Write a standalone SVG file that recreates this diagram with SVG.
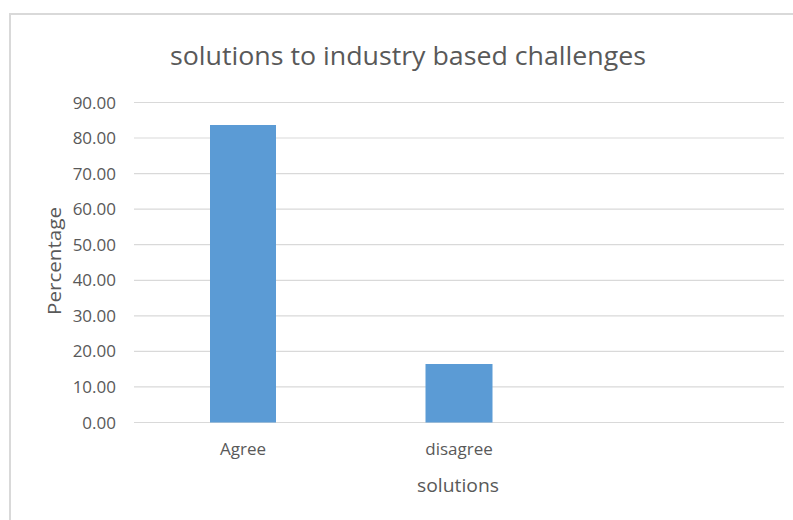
<svg xmlns="http://www.w3.org/2000/svg" width="793" height="520" viewBox="0 0 793 520">
<style>
.t{font-family:"Open Sans","Liberation Sans",sans-serif;fill:#595959}
.grid{stroke:#d9d9d9;stroke-width:1.2}
.bar{fill:#5b9bd5}
</style>
<rect width="793" height="520" fill="#ffffff"/>
<path d="M10,520 V14 H793" fill="none" stroke="#d9d9d9" stroke-width="2"/>
<text class="t" x="408" y="65" font-size="25" text-anchor="middle" textLength="476" lengthAdjust="spacingAndGlyphs">solutions to industry based challenges</text>
<g id="grid">
<line class="grid" x1="134" y1="102.5" x2="784" y2="102.5"/>
<line class="grid" x1="134" y1="138" x2="784" y2="138"/>
<line class="grid" x1="134" y1="173.6" x2="784" y2="173.6"/>
<line class="grid" x1="134" y1="209.2" x2="784" y2="209.2"/>
<line class="grid" x1="134" y1="244.7" x2="784" y2="244.7"/>
<line class="grid" x1="134" y1="280.3" x2="784" y2="280.3"/>
<line class="grid" x1="134" y1="315.8" x2="784" y2="315.8"/>
<line class="grid" x1="134" y1="351.4" x2="784" y2="351.4"/>
<line class="grid" x1="134" y1="386.9" x2="784" y2="386.9"/>
<line class="grid" x1="134" y1="422.5" x2="784" y2="422.5"/>
</g>
<g id="yticks" class="t" font-size="17" text-anchor="end">
<text x="116" y="108.5">90.00</text>
<text x="116" y="144">80.00</text>
<text x="116" y="179.6">70.00</text>
<text x="116" y="215.2">60.00</text>
<text x="116" y="250.7">50.00</text>
<text x="116" y="286.3">40.00</text>
<text x="116" y="321.8">30.00</text>
<text x="116" y="357.4">20.00</text>
<text x="116" y="392.9">10.00</text>
<text x="116" y="428.5">0.00</text>
</g>
<g id="bar-agree"><rect class="bar" x="210" y="125" width="66" height="297.5"/></g>
<g id="bar-disagree"><rect class="bar" x="425.5" y="364" width="67" height="58.5"/></g>
<g id="xlabels" class="t" font-size="17" text-anchor="middle">
<text x="243" y="455">Agree</text>
<text x="459" y="455">disagree</text>
</g>
<text class="t" x="458" y="492" font-size="19" text-anchor="middle" textLength="82" lengthAdjust="spacingAndGlyphs">solutions</text>
<text class="t" font-size="19" text-anchor="middle" transform="translate(61,261) rotate(-90)" textLength="108" lengthAdjust="spacingAndGlyphs">Percentage</text>
</svg>
